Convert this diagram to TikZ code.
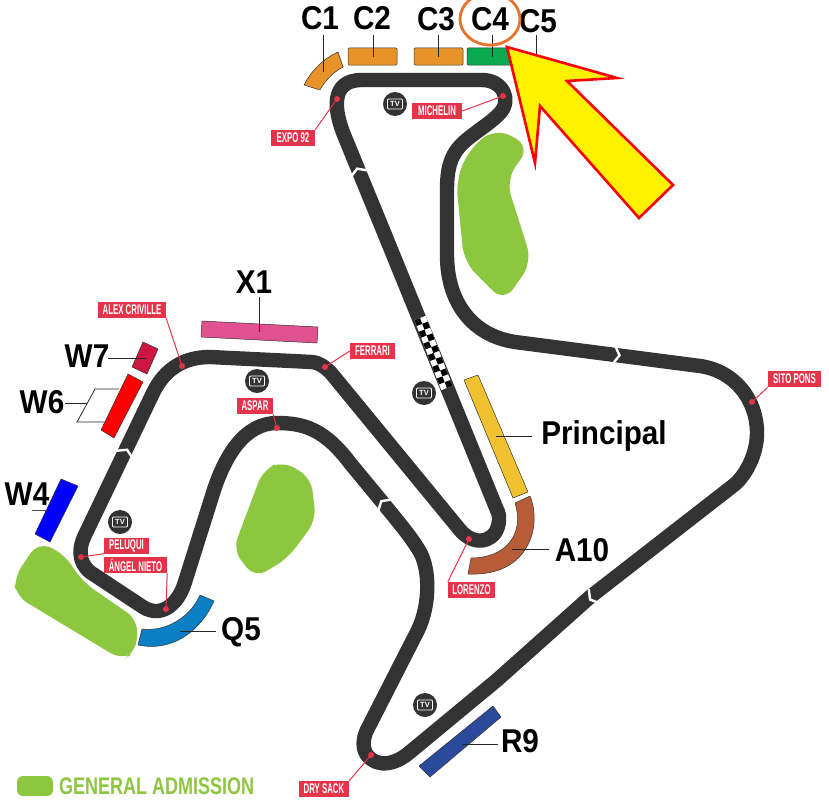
\documentclass[tikz,border=0pt]{standalone}
\usepackage{fontspec}
\setmainfont{Liberation Sans}
\newfontfamily\tagfont[FakeStretch=0.56]{Liberation Sans}
\newfontfamily\legfont[FakeStretch=0.75]{Liberation Sans}
\newfontfamily\bigfont[FakeStretch=0.9]{Liberation Sans}
\definecolor{trk}{HTML}{333333}
\definecolor{tagred}{HTML}{E5344A}
\definecolor{gagreen}{HTML}{8DC63F}
\definecolor{orng}{HTML}{E8922A}
\tikzset{
  track/.style={draw=trk,line width=14.4pt,line join=round},
  chev/.style={draw=white,line width=2.4pt,line join=miter},
  ga/.style={fill=gagreen,draw=none,rounded corners=13pt},
  stand/.style={draw=trk,line width=0.5pt,line join=round},
  lead/.style={draw=black!85,line width=0.8pt},
  big/.style={font=\bigfont\bfseries\fontsize{33}{33}\selectfont,text=black,inner sep=0pt},
  tag/.style={fill=tagred,text=white,inner sep=0pt,font=\tagfont\bfseries\fontsize{14}{14}\selectfont,minimum height=16pt},
  dot/.style={circle,fill=tagred,inner sep=0pt,minimum size=6pt},
  tagline/.style={draw=tagred,line width=1pt},
  tvdot/.style={circle,fill=trk,inner sep=0pt,minimum size=24pt},
  tvtext/.style={draw=white,line width=0.9pt,rounded corners=1pt,text=white,inner sep=1pt,font=\bfseries\fontsize{7.5}{7.5}\selectfont,minimum width=15pt,minimum height=10pt},
}
\begin{document}
\begin{tikzpicture}[x=1pt,y=-1pt]
\useasboundingbox (0,0) rectangle (829,808);
\fill[white] (0,0) rectangle (829,808);

% general admission areas
\fill[ga,rounded corners=16pt] (496,128) -- (530,146) -- (506,180) -- (532,262) -- (504,302) -- (464,262) -- (456,180) -- (470,148) -- cycle;
\fill[ga] (283,461) -- (311,478) -- (316,520) -- (288,558) -- (255,578) -- (233,550) -- (263,470) -- cycle;
\fill[ga] (38,542) -- (63,553) -- (83,582) -- (138,620) -- (136,652) -- (122,660) -- (16,596) -- (14,578) -- cycle;

% track
\draw[track] (383,230) -- (344,135) .. controls (334,110) and (330,80) .. (362,80)
 -- (482,80) .. controls (503,80) and (512,100) .. (500,113)
 .. controls (490,124) and (470,135) .. (460,146) .. controls (450,157) and (447,170) .. (447,190)
 -- (447,255) .. controls (447,300) and (470,335) .. (515,342)
 -- (700,366) .. controls (735,371) and (757,400) .. (757,433) .. controls (757,455) and (745,476) .. (734,485)
 -- (590,597) -- (497,680) -- (410,752) .. controls (395,765) and (377,768) .. (367,755) .. controls (362,748) and (363,738) .. (367,730)
 -- (418,630) .. controls (430,605) and (430,570) .. (420,552) .. controls (410,535) and (395,518) .. (383,503)
 -- (350,463) .. controls (325,430) and (305,423) .. (277,423) .. controls (245,423) and (225,455) .. (213,493)
 -- (185,582) .. controls (178,605) and (160,620) .. (140,605)
 -- (90,572) .. controls (78,562) and (79,548) .. (84,537)
 -- (153,393) .. controls (165,368) and (185,357) .. (210,357)
 -- (312,362) .. controls (320,363) and (325,367) .. (331,373)
 -- (460,530) .. controls (470,542) and (485,545) .. (495,533)
 .. controls (500,525) and (500,515) .. (497,510)
 -- cycle;

% direction chevrons
\foreach \p/\a in {{(358,171)}/112,{(126,452)}/64,{(383,503)}/130,{(617,355)}/-7,{(592,598)}/218}{
  \draw[chev,shift={\p},rotate=\a] (-3,-9) -- (2.5,0) -- (-3,9);
}

% start/finish checker
\begin{scope}[shift={(420,318)},rotate=-69]
  \fill[white] (0,-6) rectangle (75,6);
  \foreach \i in {0,...,11}{
    \pgfmathsetmacro{\xa}{\i*6.25}
    \pgfmathsetmacro{\xb}{\xa+6.25}
    \ifodd\i
      \fill[black] (\xa,-6) rectangle (\xb,0);
    \else
      \fill[black] (\xa,0) rectangle (\xb,6);
    \fi
  }
\end{scope}

% leader lines under stands
\draw[lead] (536,35) -- (536,58);

% stands
\draw[stand,fill=orng] (338,52) -- (343,67) .. controls (332,73) and (325,81) .. (320,90) -- (304,85) .. controls (311,71) and (323,59) .. (338,52) -- cycle;
\draw[stand,fill=orng,rounded corners=1pt] (348,48) rectangle (397,65);
\draw[stand,fill=orng,rounded corners=1pt] (414,48) rectangle (463,65);
\draw[stand,fill={rgb,255:red,10;green,168;blue,79},rounded corners=1pt] (467,48) rectangle (512,65);
\draw[lead] (323,35) -- (323,72);
\draw[lead] (373,35) -- (373,57);
\draw[lead] (438,35) -- (438,57);
\draw[lead] (492,35) -- (492,57);

\draw[stand,fill={rgb,255:red,224;green,82;blue,143}] (202,321) -- (318,327) -- (317,343) -- (201,337) -- cycle;
\draw[stand,fill={rgb,255:red,204;green,21;blue,64}] (143,342) -- (158,349) -- (147,374) -- (132,367) -- cycle;
\draw[stand,fill=red] (128,374) -- (143,382) -- (114,438) -- (101,430) -- cycle;
\draw[stand,fill=blue] (61,479) -- (78,486) -- (50,542) -- (35,534) -- cycle;
\draw[stand,fill={rgb,255:red,11;green,127;blue,196}] (200,595) -- (214,601) .. controls (200,632) and (172,652) .. (138,645) -- (142,629) .. controls (165,632) and (190,618) .. (200,595) -- cycle;
\draw[stand,fill={rgb,255:red,184;green,92;blue,56}] (515,503) -- (530,496) .. controls (542,525) and (530,577) .. (468,574) -- (471,558) .. controls (505,558) and (525,535) .. (515,503) -- cycle;
\draw[stand,fill={rgb,255:red,240;green,194;blue,47}] (464,380) -- (478,375) -- (528,492) -- (513,498) -- cycle;
\draw[stand,fill={rgb,255:red,43;green,74;blue,155}] (493,706) -- (501,717) -- (430,777) -- (419,766) -- cycle;

% stand labels
\node[big] (c1) at (320,18) {C1};
\node[big] (c2) at (372,18) {C2};
\node[big] (c3) at (436,19) {C3};
\node[big] (c4) at (490,19) {C4};
\node[big] (c5) at (538,21) {C5};
\node[big] (x1) at (254,282) {X1};
\node[big] (w7) at (87,356) {W7};
\node[big] (w6) at (42,402) {W6};
\node[big] (w4) at (27,494) {W4};
\node[big] (princ) at (604,436) {Principal};
\node[big] (a10) at (582,550) {A10};
\node[big] (q5) at (241,632) {Q5};
\node[big] (r9) at (520,741) {R9};

% leaders from labels
\draw[lead] (259,297) -- (259,332);
\draw[lead] (108,358) -- (146,358);
\draw[lead] (65,403) -- (87,403);
\draw[lead] (119,389) -- (95,389) -- (77,422) -- (104,422);
\draw[lead,black!70] (32,510) -- (47,510);
\draw[lead] (180,631) -- (216,631);
\draw[lead] (512,549) -- (549,549);
\draw[lead] (496,436) -- (532,436);
\draw[lead] (462,744) -- (498,744);

% TV icons
\foreach \n/\p in {a/{(395,104)},b/{(257,381)},c/{(120,522)},d/{(424,393)},e/{(425,705)}}{
  \node[tvdot] (tv\n) at \p {};
  \node[tvtext] (tvt\n) at (tv\n) {TV};
}

% corner name tags
\node[tag,minimum width=44pt] (expo) at (293,138) {EXPO 92};
\node[tag,minimum width=50pt] (mich) at (437,111) {MICHELIN};
\node[tag,minimum width=68pt] (alex) at (132,310) {ALEX CRIVILLE};
\node[tag,minimum width=45pt] (ferr) at (372.5,351) {FERRARI};
\node[tag,minimum width=36pt] (aspar) at (255,406) {ASPAR};
\node[tag,minimum width=45pt] (pelu) at (126.5,545.5) {PELUQUI};
\node[tag,minimum width=63pt] (angel) at (135.5,565) {ÁNGEL NIETO};
\node[tag,minimum width=47pt] (lore) at (471.5,590) {LORENZO};
\node[tag,minimum width=53pt] (sito) at (794.5,379) {SITO PONS};
\node[tag,minimum width=50pt] (dry) at (324,789) {DRY SACK};

\node[dot] (dexpo) at (337,99) {};
\node[dot] (dmich) at (503,96) {};
\node[dot] (dalex) at (182,366) {};
\node[dot] (dferr) at (325,367) {};
\node[dot] (daspar) at (277,428) {};
\node[dot] (dpelu) at (81,557) {};
\node[dot] (dangel) at (166,609) {};
\node[dot] (dlore) at (469,539) {};
\node[dot] (dsito) at (752,402) {};
\node[dot] (ddry) at (371,755) {};

\draw[tagline] (dexpo.center) -- (expo.north east);
\draw[tagline] (dmich.center) -- (mich.east);
\draw[tagline] (dalex.center) -- (alex.south east);
\draw[tagline] (dferr.center) -- (ferr.west);
\draw[tagline] (daspar.center) -- (aspar.south east);
\draw[tagline] (dpelu.center) -- (pelu.south west);
\draw[tagline] (dangel.center) -- (angel.south east);
\draw[tagline] (dlore.center) -- (lore.north west);
\draw[tagline] (dsito.center) -- (sito.south west);
\draw[tagline] (ddry.center) -- (dry.north east);

% highlight circle and arrow
\draw[draw={rgb,255:red,233;green,115;blue,44},line width=2.8pt] (490,19) ellipse [x radius=30pt,y radius=26pt];
\draw[draw=red,fill=yellow,line width=2.6pt,line join=miter] (507,47) -- (617,78) -- (567,81) -- (673,185) -- (639,218) -- (540,106) -- (535,163) -- cycle;

% legend
\fill[gagreen,rounded corners=6pt] (17,776) rectangle (53,796);
\node[anchor=west,inner sep=0pt,text=gagreen,font=\legfont\bfseries\fontsize{24}{24}\selectfont] (leg) at (59,786) {GENERAL ADMISSION};
\end{tikzpicture}
\end{document}
